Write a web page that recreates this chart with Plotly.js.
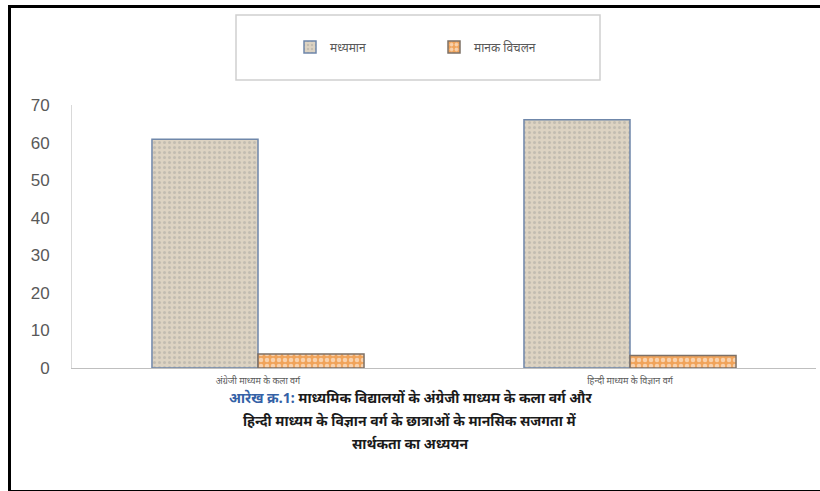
<!DOCTYPE html>
<html>
<head>
<meta charset="utf-8">
<script src="https://cdn.plot.ly/plotly-3.0.1.min.js"></script>
<style>
  html, body { margin:0; padding:0; background:#fff; }
  #wrap { position:relative; width:820px; height:491px; }
  #chart { width:820px; height:491px; }
  #frame { position:absolute; left:8px; top:5px; width:812px; height:482px;
           border-left:3px solid #000; border-top:3px solid #000; border-bottom:3px solid #000;
           pointer-events:none; }
</style>
</head>
<body>
<div id="wrap"><div id="chart"></div><div id="frame"></div></div>
<script>
const categories = ["अंग्रेजी माध्यम के कला वर्ग", "हिन्दी माध्यम के विज्ञान वर्ग"];
const seriesNames = ["मध्यमान", "मानक विचलन"];
const meanValues = [60.9, 66.1];
const sdValues = [3.7, 3.3];
const yTicks = [0, 10, 20, 30, 40, 50, 60, 70];
const captionLines = [
  '<span style="color:#3461a6">आरेख क्र.1:</span> माध्यमिक विद्यालयों के अंग्रेजी माध्यम के कला वर्ग और',
  'हिन्दी माध्यम के विज्ञान वर्ग के छात्राओं के मानसिक सजगता में',
  'सार्थकता का अध्ययन'
];

const W = 820, H = 491;
const M = {l:72, r:4, t:105, b:123};
const pw = W - M.l - M.r, ph = H - M.t - M.b;
const px = x => (x - M.l) / pw;
const py = y => (H - M.b - y) / ph;

const traces = [
  {
    type:'bar', name:seriesNames[0], x:categories, y:meanValues,
    marker:{ color:'#ddd3c2', line:{color:'#6f87aa', width:1.5},
             pattern:{shape:'.', bgcolor:'#ddd3c2', fgcolor:'#a8a6a0', size:5, solidity:0.3, fillmode:'overlay'} }
  },
  {
    type:'bar', name:seriesNames[1], x:categories, y:sdValues,
    marker:{ color:'#f0a35a', line:{color:'#7d7066', width:1.5},
             pattern:{shape:'.', bgcolor:'#f0a35a', fgcolor:'#ffffff', size:6, solidity:0.45, fillmode:'overlay'} }
  }
];

const captionY = [397, 420, 443];
const annotations = captionLines.map((t, i) => ({
  xref:'paper', yref:'paper', x:px(410), y:py(captionY[i]), xanchor:'center', yanchor:'middle',
  showarrow:false, font:{family:'Noto Sans, sans-serif', size:14, color:'#1a1a1a'},
  text:'<b>' + t + '</b>'
}));

const layout = {
  width:W, height:H,
  margin:M,
  paper_bgcolor:'#ffffff', plot_bgcolor:'#ffffff',
  barmode:'group', bargap:0.43, bargroupgap:0,
  showlegend:true,
  legend:{ orientation:'h', x:px(290), xanchor:'left', y:py(47), yanchor:'middle',
           bgcolor:'rgba(0,0,0,0)', font:{family:'Noto Sans, sans-serif', size:12, color:'#595959'},
           entrywidth:99, entrywidthmode:'pixels', itemwidth:30 },
  xaxis:{ type:'category', showgrid:false, zeroline:false, showline:true, linecolor:'#bfbfbf', linewidth:1,
          ticks:'', ticklabelstandoff:4, tickfont:{family:'Noto Sans, sans-serif', size:9, color:'#595959'} },
  yaxis:{ range:[0,70], tickvals:yTicks, showgrid:false, zeroline:false, showline:true, linecolor:'#d9d9d9',
          ticks:'', ticklabelstandoff:18,
          tickfont:{family:'Liberation Sans, Arial, sans-serif', size:17, color:'#595959'} },
  shapes:[
    { type:'rect', xref:'paper', yref:'paper', x0:px(236), x1:px(600), y0:py(80), y1:py(15),
      line:{color:'#d0d0d0', width:1.5}, fillcolor:'rgba(0,0,0,0)', layer:'below' }
  ],
  annotations:annotations
};

Plotly.newPlot('chart', traces, layout, {displayModeBar:false, staticPlot:true});
</script>
</body>
</html>
